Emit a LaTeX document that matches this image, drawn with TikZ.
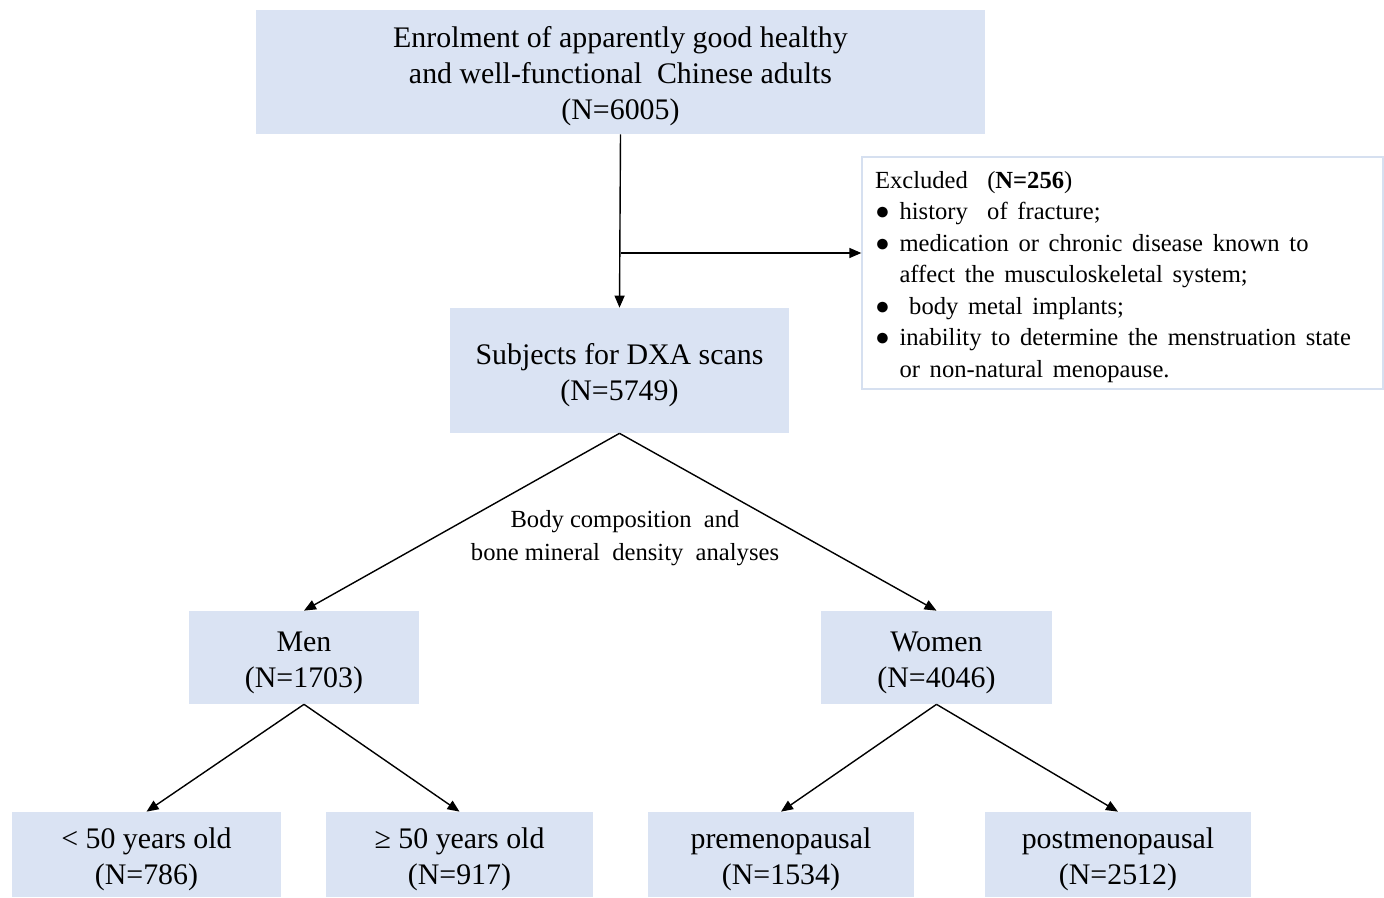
\documentclass[tikz,border=0pt]{standalone}
\usepackage{fontspec}
\setmainfont{Liberation Serif}
\usetikzlibrary{arrows.meta}
\definecolor{boxblue}{RGB}{218,227,243}
\definecolor{edgeblue}{RGB}{214,224,240}
\newcommand{\topstrut}{\rule{0pt}{1em}}
\tikzset{
	box/.style={fill=boxblue, align=center, inner sep=0pt, font=\fontsize{17}{20.5}\selectfont},
	arr/.style={-{Triangle[length=0.24cm,width=0.2cm]}, line width=0.8pt}
}
\begin{document}
\begin{tikzpicture}[x=0.02cm, y=-0.02cm]
		\useasboundingbox (0,0) rectangle (1384,898);
		% Riquadri principali
		\node[box, minimum width=14.58cm, minimum height=2.48cm] (enrol) at (620.5,72) {\topstrut Enrolment of apparently good healthy\\and well-functional~ Chinese adults\\(N=6005)};
		\node[box, minimum width=6.78cm, minimum height=2.5cm] (dxa) at (619.5,370.5) {\topstrut Subjects for DXA scans\\(N=5749)};
		\node[draw=edgeblue, line width=0.8pt, inner sep=0pt, minimum width=10.42cm, minimum height=4.64cm, text width=9.9cm, align=left, font=\fontsize{14}{17.9}\selectfont,
			execute at begin node={\spaceskip=5.5pt plus 1pt\rule{0pt}{1em}}] (excl) at (1122.5,273) {Excluded~ (\textbf{N=256})\\
			● history~ of fracture;\\
			● medication or chronic disease known to\\
			\phantom{● }affect the musculoskeletal system;\\
			●~ body metal implants;\\
			● inability to determine the menstruation state\\
			\phantom{● }or non-natural menopause.};
		
		% Uomini e donne
		\node[box, minimum width=4.6cm, minimum height=1.86cm] (men) at (304,657.5) {\topstrut Men\\(N=1703)};
		\node[box, minimum width=4.62cm, minimum height=1.86cm] (women) at (936.5,657.5) {\topstrut Women\\(N=4046)};
		
		% Sottogruppi
		\node[box, minimum width=5.38cm, minimum height=1.7cm] (young) at (146.5,854.5) {\topstrut < 50 years old\\(N=786)};
		\node[box, minimum width=5.34cm, minimum height=1.7cm] (old) at (459.5,854.5) {\topstrut ≥ 50 years old\\(N=917)};
		\node[box, minimum width=5.32cm, minimum height=1.7cm] (pre) at (781,854.5) {\topstrut premenopausal\\(N=1534)};
		\node[box, minimum width=5.32cm, minimum height=1.7cm] (post) at (1118,854.5) {\topstrut postmenopausal\\(N=2512)};
		
		\node[align=center, font=\fontsize{14}{18.7}\selectfont] (bmd) at (625,538) {Body composition~ and\\bone mineral~ density~ analyses};
		
		\coordinate (branch) at (621,253);
		\draw[arr] (enrol.south) -- (dxa.north);
		\draw[arr] (branch) -- (branch -| excl.west);
		\draw[arr] (dxa.south) -- (men.north);
		\draw[arr] (dxa.south) -- (women.north);
		\draw[arr] (men.south) -- (young.north);
		\draw[arr] (men.south) -- (old.north);
		\draw[arr] (women.south) -- (pre.north);
		\draw[arr] (women.south) -- (post.north);
	\end{tikzpicture}
\end{document}
